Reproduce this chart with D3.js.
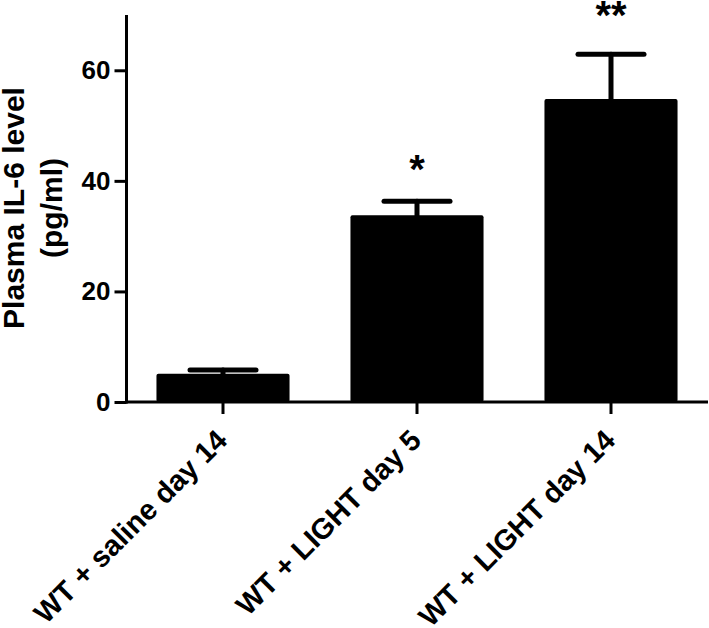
<!DOCTYPE html>
<html>
<head>
<meta charset="utf-8">
<script src="https://cdn.jsdelivr.net/npm/d3@7"></script>
<style>
  html, body { margin: 0; padding: 0; background: #fff; }
  svg text { font-family: "Liberation Sans", Arial, Helvetica, sans-serif; font-weight: bold; fill: #000; }
</style>
</head>
<body>
<svg id="chart" width="709" height="628"></svg>
<script>
// ---- data ----
const categories = ["WT + saline day 14", "WT + LIGHT day 5", "WT + LIGHT day 14"];
const means = [5.1, 33.8, 54.8];
const sems = [0.7, 2.5, 8.1];
const significance = ["", "*", "**"];
const significanceY = [null, 39.6, 67.4];
const yTicks = [0, 20, 40, 60];
const yLabelLines = ["Plasma IL-6 level", "(pg/ml)"];

// ---- layout ----
const svg = d3.select("#chart");
const x0 = 126, x1 = 708, yTop = 15, yBase = 402;

const x = d3.scaleBand().domain(categories).range([x0, x1])
  .paddingInner(0.314).paddingOuter(0.157);
const y = d3.scaleLinear().domain([0, 70]).range([yBase, yTop]);

const data = categories.map((c, i) => ({ c, m: means[i], s: sems[i], sig: significance[i], sy: significanceY[i] }));

// bars
svg.append("g").selectAll("rect").data(data).join("rect")
  .attr("x", d => x(d.c))
  .attr("y", d => y(d.m))
  .attr("width", x.bandwidth())
  .attr("height", d => y(0) - y(d.m))
  .attr("rx", 2)
  .attr("fill", "#000");

// error bars
const eb = svg.append("g").attr("stroke", "#000").attr("stroke-width", 5).attr("stroke-linecap", "round");
eb.selectAll("line.v").data(data).join("line").attr("class", "v")
  .attr("x1", d => x(d.c) + x.bandwidth() / 2)
  .attr("x2", d => x(d.c) + x.bandwidth() / 2)
  .attr("y1", d => y(d.m))
  .attr("y2", d => y(d.m + d.s));
eb.selectAll("line.cap").data(data).join("line").attr("class", "cap")
  .attr("x1", d => x(d.c) + x.bandwidth() / 2 - 33)
  .attr("x2", d => x(d.c) + x.bandwidth() / 2 + 33)
  .attr("y1", d => y(d.m + d.s))
  .attr("y2", d => y(d.m + d.s));

// significance stars
svg.append("g").selectAll("text").data(data.filter(d => d.sig)).join("text")
  .attr("x", d => x(d.c) + x.bandwidth() / 2)
  .attr("y", d => y(d.sy))
  .attr("text-anchor", "middle")
  .style("font-size", "40px")
  .text(d => d.sig);

// y axis
const yAxis = d3.axisLeft(y).tickValues(yTicks).tickSize(12).tickSizeOuter(0).tickPadding(4);
const gy = svg.append("g").attr("transform", `translate(${x0 + 0.5},0)`).call(yAxis);
gy.select(".domain").remove();
gy.selectAll(".tick line").attr("stroke", "#000").attr("stroke-width", 3);
gy.selectAll(".tick text").style("font-size", "26px").style("font-family", "'Liberation Sans', Arial, sans-serif").style("font-weight", "bold");
svg.append("line").attr("x1", x0 + 0.5).attr("x2", x0 + 0.5).attr("y1", y(70)).attr("y2", yBase + 1.5)
  .attr("stroke", "#000").attr("stroke-width", 3);

// x axis
const xAxis = d3.axisBottom(x).tickSize(12).tickSizeOuter(0).tickFormat("");
const gx = svg.append("g").attr("transform", `translate(0,${yBase})`).call(xAxis);
gx.select(".domain").remove();
gx.selectAll(".tick line").attr("stroke", "#000").attr("stroke-width", 3);
svg.append("line").attr("x1", x0 - 1).attr("x2", x1).attr("y1", yBase).attr("y2", yBase)
  .attr("stroke", "#000").attr("stroke-width", 3);

// x labels
svg.append("g").selectAll("text").data(categories).join("text")
  .attr("transform", d => `translate(${x(d) + x.bandwidth() / 2 + 6},${yBase + 40}) rotate(-45)`)
  .attr("text-anchor", "end")
  .style("font-size", "29px")
  .text(d => d);

// y label
const yl = svg.append("text")
  .attr("transform", "translate(0,208) rotate(-90)")
  .attr("text-anchor", "middle")
  .style("font-size", "30px");
yl.selectAll("tspan").data(yLabelLines).join("tspan")
  .attr("x", 0)
  .attr("y", (d, i) => 24 + i * 38)
  .text(d => d);
</script>
</body>
</html>
